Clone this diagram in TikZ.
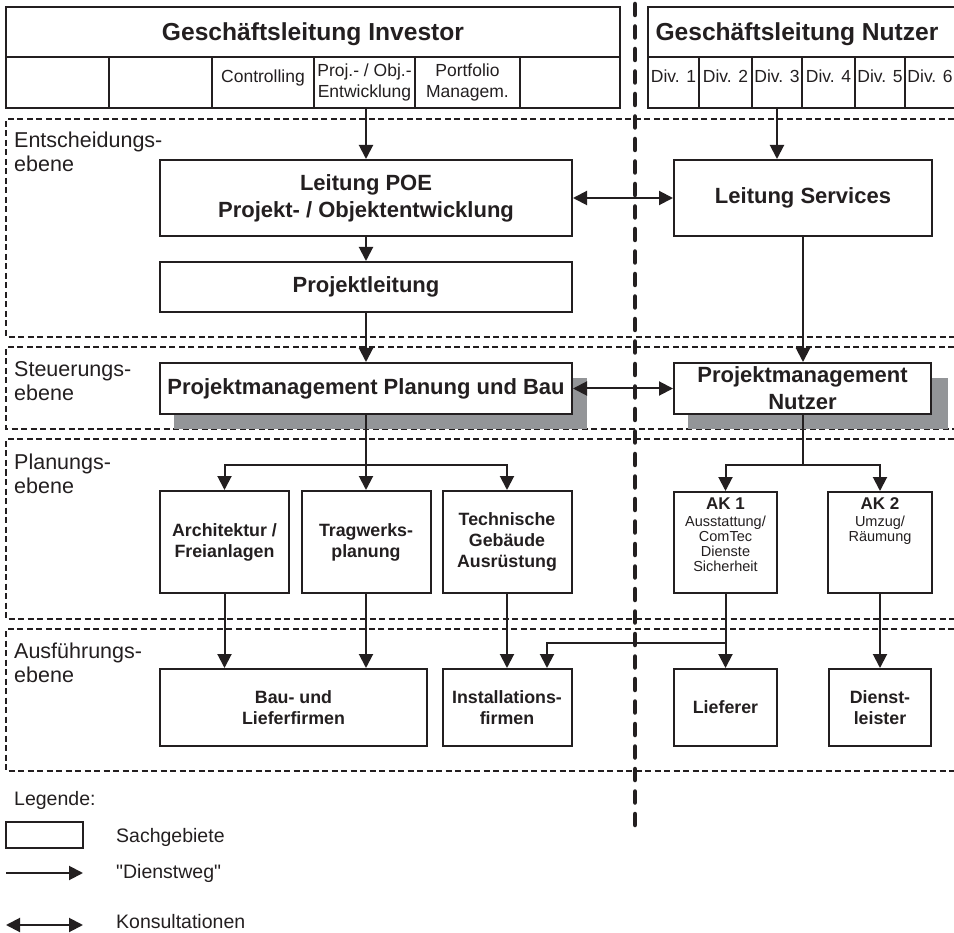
\documentclass[tikz,border=0pt]{standalone}
\usepackage{fontspec}
\setmainfont{Liberation Sans}
\newfontfamily\qfont{Liberation Sans}
\usetikzlibrary{arrows.meta}
\definecolor{ink}{RGB}{35,31,32}
\definecolor{shadowgray}{RGB}{147,149,152}
\begin{document}
\begin{tikzpicture}[x=1pt,y=-1pt,
  box/.style={draw=ink, line width=2pt, fill=white, inner sep=0pt, align=center, text=ink},
  cell/.style={box, line width=1.8pt},
  big/.style={font=\fontsize{22}{27}\selectfont\bfseries},
  mid/.style={font=\fontsize{17.8}{21}\selectfont\bfseries},
  small/.style={font=\fontsize{17.5}{21}\selectfont},
  title/.style={font=\fontsize{24.6}{28}\selectfont\bfseries, text=ink, text depth=0pt},
  oneline/.style={text height=13pt, text depth=13pt},
  lvl/.style={font=\fontsize{21.5}{24}\selectfont, text=ink, inner sep=0pt, align=left, anchor=north west},
  leg/.style={font=\fontsize{19.5}{24}\selectfont, text=ink, inner sep=0pt, anchor=base west},
  conn/.style={draw=ink, line width=2pt},
  arr/.style={conn, -{Triangle[length=14pt,width=14pt]}},
  dbl/.style={conn, {Triangle[length=14pt,width=14pt]}-{Triangle[length=14pt,width=14pt]}},
  band/.style={draw=ink, line width=1.2pt, dash pattern=on 6pt off 3.5pt},
  sepline/.style={draw=ink, line width=4.5pt, line cap=round, dash pattern=on 11pt off 11.5pt}
]
\useasboundingbox (0,0) rectangle (954,933);
\fill[white] (0,0) rectangle (954,933);

% level bands
\draw[band] (954,119) -- (6,119) -- (6,337) -- (954,337);
\draw[band] (954,347) -- (6,347) -- (6,429) -- (954,429);
\draw[band] (954,439) -- (6,439) -- (6,619) -- (954,619);
\draw[band] (954,629) -- (6,629) -- (6,771) -- (954,771);

\node[lvl] (l1) at (14,132) {Entscheidungs-\\ebene};
\node[lvl] (l2) at (14,361) {Steuerungs-\\ebene};
\node[lvl] (l3) at (14,454) {Planungs-\\ebene};
\node[lvl] (l4) at (14,643) {Ausführungs-\\ebene};

% header investor
\node[cell, title, minimum width=614pt, minimum height=50pt] (invt) at (313,32) {Geschäftsleitung Investor};
\node[cell, minimum width=103pt, minimum height=51pt] (c1) at (57.5,82.5) {};
\node[cell, minimum width=103pt, minimum height=51pt] (c2) at (160.5,82.5) {};
\node[cell, small, oneline, minimum width=102pt, minimum height=51pt] (c3) at (263,82.5) {Controlling};
\node[cell, small, minimum width=101pt, minimum height=51pt] (c4) at (364.5,82.5) {Proj.- / Obj.-\\Entwicklung};
\node[cell, small, minimum width=105pt, minimum height=51pt] (c5) at (467.5,82.5) {Portfolio\\Managem.};
\node[cell, minimum width=100pt, minimum height=51pt] (c6) at (570,82.5) {};

% header Nutzer
\draw[draw=ink, line width=1.8pt] (954,7) -- (648,7) -- (648,108) -- (954,108);
\draw[draw=ink, line width=1.8pt] (648,57) -- (954,57);
\node[title] (nutt) at (797,32) {Geschäftsleitung Nutzer};
\node[cell, small, oneline, minimum width=51pt, minimum height=51pt] (d1) at (673.5,82.5) {Div. 1};
\node[cell, small, oneline, minimum width=53pt, minimum height=51pt] (d2) at (725.5,82.5) {Div. 2};
\node[cell, small, oneline, minimum width=50pt, minimum height=51pt] (d3) at (777,82.5) {Div. 3};
\node[cell, small, oneline, minimum width=53pt, minimum height=51pt] (d4) at (828.5,82.5) {Div. 4};
\node[cell, small, oneline, minimum width=50pt, minimum height=51pt] (d5) at (880,82.5) {Div. 5};
\node[small, oneline, text=ink, inner sep=0pt] (d6) at (930,82.5) {Div. 6};

% Entscheidungsebene
\node[box, big, minimum width=412pt, minimum height=76pt] (poe) at (366,198) {Leitung POE\\Projekt- / Objektentwicklung};
\node[box, big, minimum width=258pt, minimum height=76pt] (serv) at (803,198) {Leitung Services};
\node[box, big, minimum width=412pt, minimum height=50pt] (pl) at (366,287) {Projektleitung};

% Steuerungsebene (shadows first)
\fill[shadowgray] (174,378) rectangle (587,429);
\fill[shadowgray] (688,378) rectangle (948,429);
\node[box, big, minimum width=412pt, minimum height=51pt] (pmb) at (366,388.5) {Projektmanagement Planung und Bau};
\node[box, big, minimum width=257pt, minimum height=51pt] (pmn) at (802.5,388.5) {Projektmanagement\\Nutzer};

% Planungsebene
\node[box, mid, minimum width=129pt, minimum height=102pt] (arch) at (224.5,542) {Architektur /\\Freianlagen};
\node[box, mid, minimum width=129pt, minimum height=102pt] (trag) at (366,542) {Tragwerks-\\planung};
\node[box, mid, minimum width=129pt, minimum height=102pt] (tech) at (507,542) {Technische\\Gebäude\\Ausrüstung};
\node[box, minimum width=103pt, minimum height=101pt] (ak1) at (725.5,542.5) {};
\node[box, minimum width=104pt, minimum height=101pt] (ak2) at (880,542.5) {};
\node[font=\fontsize{17}{20}\selectfont\bfseries, text=ink, inner sep=0pt, anchor=base] (ak1h) at (725.5,509) {AK 1};
\node[font=\fontsize{14.5}{15}\selectfont, text=ink, inner sep=0pt, align=center, anchor=north] (ak1c) at (725.5,516) {Ausstattung/\\ComTec\\Dienste\\Sicherheit};
\node[font=\fontsize{17}{20}\selectfont\bfseries, text=ink, inner sep=0pt, anchor=base] (ak2h) at (880,509) {AK 2};
\node[font=\fontsize{14.5}{15}\selectfont, text=ink, inner sep=0pt, align=center, anchor=north] (ak2c) at (880,516) {Umzug/\\Räumung};

% Ausfuehrungsebene
\node[box, mid, minimum width=267pt, minimum height=77pt] (bau) at (293.5,707.5) {Bau- und\\Lieferfirmen};
\node[box, mid, minimum width=129pt, minimum height=77pt] (inst) at (507,707.5) {Installations-\\firmen};
\node[box, mid, minimum width=103pt, minimum height=77pt] (lief) at (725.5,707.5) {Lieferer};
\node[box, mid, minimum width=102pt, minimum height=77pt] (dienst) at (880,707.5) {Dienst-\\leister};

% connectors
\draw[arr] (c4.south -| poe.north) -- (poe.north);
\draw[arr] (d3.south) -- (d3.south |- serv.north);
\draw[dbl] (poe.east) -- (serv.west);
\draw[arr] (poe.south) -- (pl.north);
\draw[arr] (pl.south) -- (pmb.north);
\draw[arr] (serv.south) -- (serv.south |- pmn.north);
\draw[dbl] (pmb.east) -- (pmn.west);

\coordinate (j1) at (366,465);
\draw[conn] (pmb.south) -- (j1);
\draw[arr] (j1) -| (arch.north);
\draw[arr] (j1) -- (trag.north);
\draw[arr] (j1) -| (tech.north);

\coordinate (j2) at (802.5,465);
\draw[conn] (pmn.south) -- (j2);
\draw[arr] (j2) -| (ak1.north);
\draw[arr] (j2) -| (ak2.north);

\draw[arr] (arch.south) -- (arch.south |- bau.north);
\draw[arr] (trag.south) -- (trag.south |- bau.north);
\draw[arr] (tech.south) -- (inst.north);
\draw[arr] (ak1.south) -- (lief.north);
\coordinate (j3) at (725.5,643);
\draw[arr] (j3) -| ([xshift=40pt]inst.north);
\draw[arr] (ak2.south) -- (dienst.north);

% legend
\node[leg] (legh) at (14,805) {Legende:};
\node[box, line width=1.8pt, minimum width=77pt, minimum height=26pt] (legbox) at (44.5,835) {};
\node[leg] (legt1) at (116,842) {Sachgebiete};
\coordinate (la1) at (6,873);
\coordinate (la2) at (83,873);
\draw[arr] (la1) -- (la2);
\node[leg] (legt2) at (116,878) {\qfont "Dienstweg"};
\coordinate (lb1) at (6,925);
\coordinate (lb2) at (83,925);
\draw[dbl] (lb1) -- (lb2);
\node[leg] (legt3) at (116,928) {Konsultationen};

% separator
\coordinate (s1) at (635,4);
\coordinate (s2) at (635,826);
\draw[sepline] (s1) -- (s2);
\end{tikzpicture}
\end{document}
